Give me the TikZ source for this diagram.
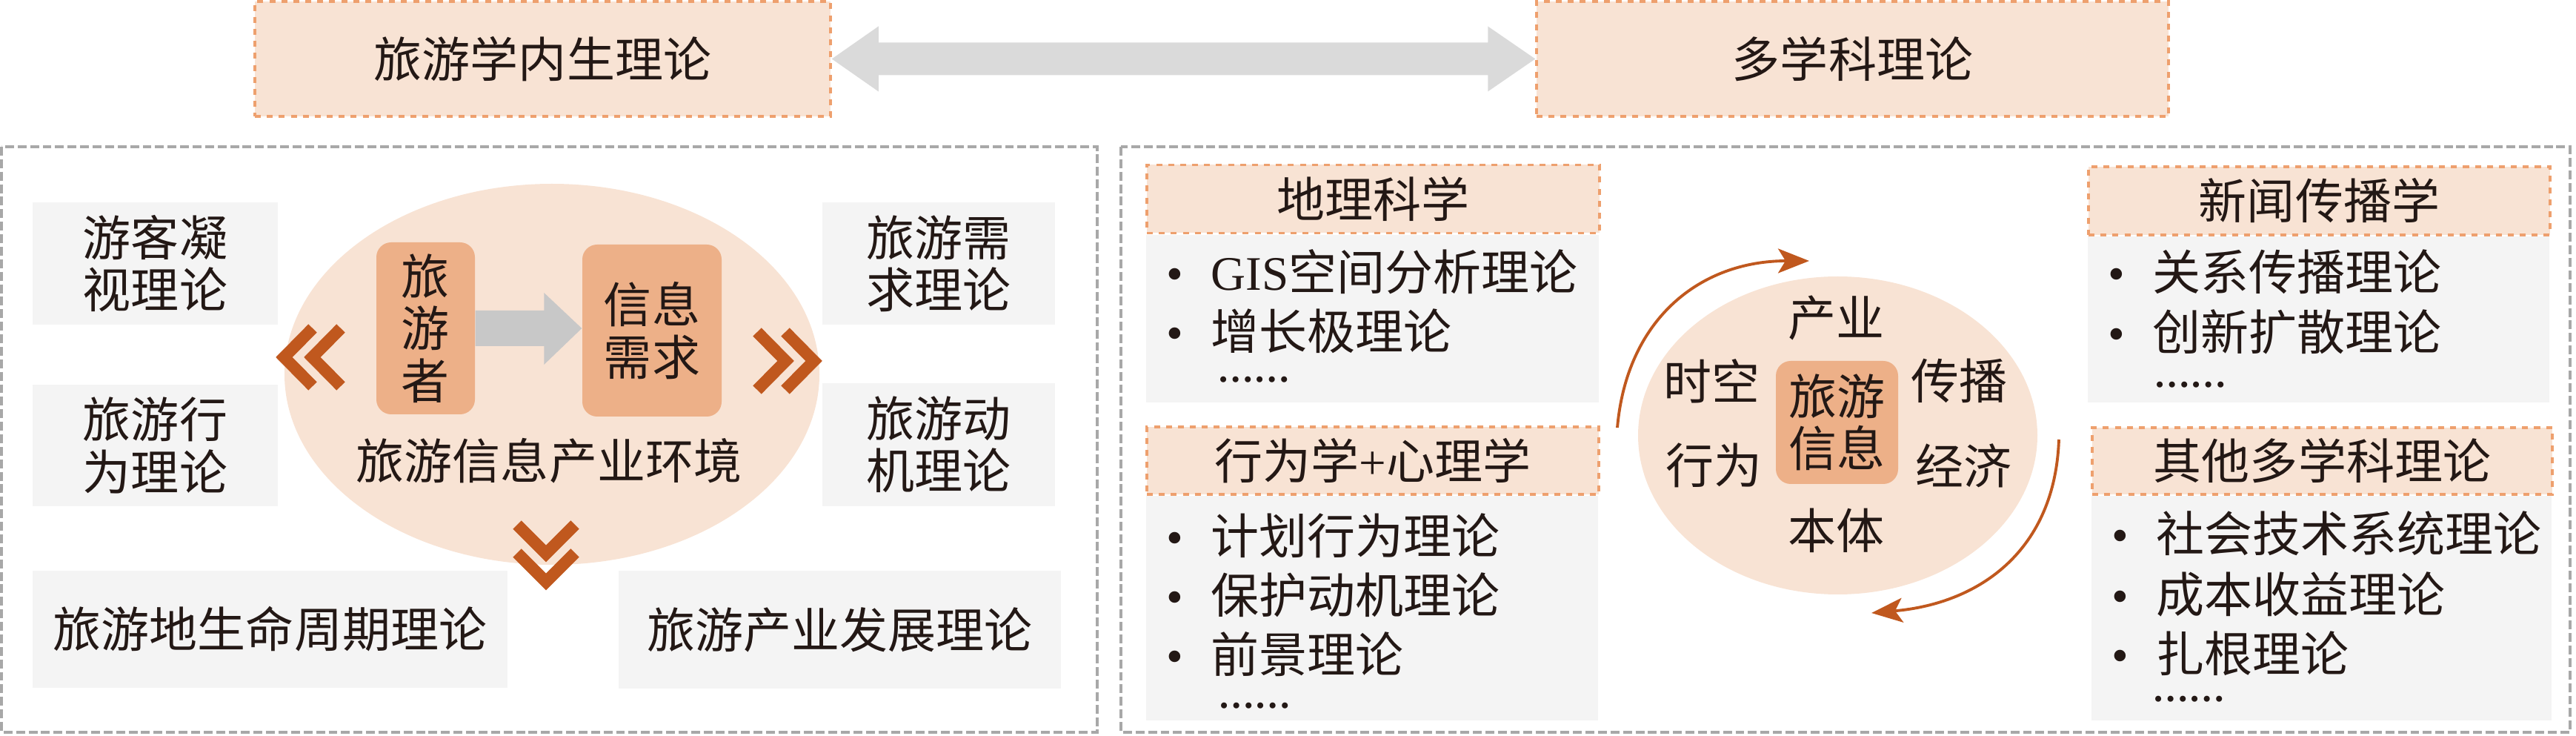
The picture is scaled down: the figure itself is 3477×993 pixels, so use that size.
\documentclass[tikz,border=0pt]{standalone}
\usepackage{fontspec}
\setmainfont{Liberation Serif}
\newfontfamily\cjk{Noto Sans CJK SC}
\usetikzlibrary{arrows.meta,shapes.geometric,calc}

\definecolor{lorange}{RGB}{248,227,212}
\definecolor{borange}{RGB}{238,160,110}
\definecolor{dorange}{RGB}{237,176,136}
\definecolor{rust}{RGB}{192,88,30}
\definecolor{lgray}{RGB}{244,244,244}
\definecolor{pgray}{RGB}{168,168,168}
\definecolor{agray}{RGB}{218,218,218}
\definecolor{bgray}{RGB}{200,200,200}
\definecolor{ink}{RGB}{35,24,21}

\newcommand{\itm}{{\rmfamily\textbullet}\hspace{3.7mm}}

\begin{document}
\begin{tikzpicture}[x=0.1mm,y=-0.1mm]
\tikzstyle{every node} = [font=\cjk\fontsize{18.5pt}{20pt}\selectfont, text=ink, inner sep=0pt]
\tikzstyle{topbox} = [rectangle, draw=borange, fill=lorange, line width=1pt,
dash pattern=on 2.3pt off 2.3pt, minimum height=15.5mm]
\tikzstyle{theory} = [rectangle, fill=lgray, align=center]
\tikzstyle{header} = [rectangle, draw=borange, fill=lorange, line width=1pt,
dash pattern=on 2.3pt off 2.3pt]
\tikzstyle{listbody} = [rectangle, fill=lgray, anchor=north west]
\tikzstyle{listitem} = [anchor=west]
\tikzstyle{dots} = [anchor=west, font=\rmfamily\bfseries\fontsize{14pt}{14pt}\selectfont]
\tikzstyle{corebox} = [rectangle, rounded corners=2mm, fill=dorange, align=center]
\tikzstyle{chev} = [draw=rust, line width=1.6mm, line join=miter]
\tikzstyle{turn} = [draw=rust, line width=1.1pt, -{Stealth[length=4.2mm,width=3.3mm,inset=1mm]}]
\tikzstyle{panel} = [draw=pgray, line width=1.1pt, dash pattern=on 3.4pt off 1.4pt]
\useasboundingbox (0,0) rectangle (3477,993);

% top row
\node [topbox, minimum width=77.7mm] (endo) at (732.5,79.5) {旅游学内生理论};
\node [topbox, minimum width=85.3mm] (multi) at (2500.5,79.5) {多学科理论};
\fill [agray] (endo.east) -- ++(63,-44) -- ++(0,22) -- ($(multi.west)+(-64,-22)$)
  -- ++(0,-22) -- (multi.west) -- ++(-64,44) -- ++(0,-22)
  -- ($(endo.east)+(63,22)$) -- ++(0,22) -- cycle;

% panels
\draw [panel] (2,198) rectangle (1481,988);
\draw [panel] (1513,198) rectangle (3469,988);

% left panel
\node [ellipse, fill=lorange, minimum width=72.2mm, minimum height=51.4mm] (env) at (745,505) {};
\node (envlabel) at (741,622) {旅游信息产业环境};
\node [theory, minimum width=33.1mm, minimum height=16.5mm] (gaze) at (209.5,355.5) {游客凝\\视理论};
\node [theory, minimum width=31.4mm, minimum height=16.5mm] (demand) at (1267,355.5) {旅游需\\求理论};
\node [theory, minimum width=33.1mm, minimum height=16.4mm] (behav) at (209.5,601) {旅游行\\为理论};
\node [theory, minimum width=31.4mm, minimum height=16.6mm] (motive) at (1267,600) {旅游动\\机理论};
\node [theory, minimum width=64.1mm, minimum height=15.8mm] (lifecycle) at (364.5,849) {旅游地生命周期理论};
\node [theory, minimum width=59.7mm, minimum height=15.9mm] (industry) at (1133.5,849.5) {旅游产业发展理论};
\node [corebox, minimum width=13.3mm, minimum height=23.2mm] (tourist) at (574.5,443) {旅\\游\\者};
\node [corebox, minimum width=18.8mm, minimum height=23.2mm] (need) at (880,446) {信息\\需求};
\fill [bgray] ($(tourist.east)+(0,-24)$) -- ($(need.west)+(-51,-27)$) -- ++(0,-24)
  -- ($(need.west)+(0,-3)$) -- ++(-51,49) -- ++(0,-25) -- ($(tourist.east)+(0,24)$) -- cycle;
\draw [chev] (422,443) -- (383.5,482) -- (422,521);
\draw [chev] (460,443) -- (421.5,482) -- (460,521);
\draw [chev] (1060,448) -- (1098.5,487) -- (1060,526);
\draw [chev] (1022,448) -- (1060.5,487) -- (1022,526);
\draw [chev] (698,708) -- (737,747) -- (776,708);
\draw [chev] (698,746) -- (737,785) -- (776,746);

% right panel, left column
\node [header, minimum width=61.1mm, minimum height=9.2mm] (geo) at (1853.5,268.5) {地理科学};
\node [listbody, minimum width=61.1mm, minimum height=22.6mm] (geobody) at (geo.south west) {};
\node [listitem] (gis) at (1574,367) {\itm{\rmfamily GIS}空间分析理论};
\node [listitem] (pole) at (1574,447) {\itm 增长极理论};
\node [dots] (geodots) at (1643,512) {……};
\node [header, minimum width=61.0mm, minimum height=9.1mm] (psy) at (1853,621.5) {行为学{\rmfamily +}心理学};
\node [listbody, minimum width=61.0mm, minimum height=30.3mm] (psybody) at (psy.south west) {};
\node [listitem] (tpb) at (1574,723) {\itm 计划行为理论};
\node [listitem] (pmt) at (1574,803) {\itm 保护动机理论};
\node [listitem] (prospect) at (1574,883) {\itm 前景理论};
\node [dots] (psydots) at (1644,952) {……};

% right panel, right column
\node [header, minimum width=62.3mm, minimum height=9.2mm] (news) at (3130.5,271) {新闻传播学};
\node [listbody, minimum width=62.3mm, minimum height=22.4mm] (newsbody) at (news.south west) {};
\node [listitem] (relcomm) at (2845,367) {\itm 关系传播理论};
\node [listitem] (diffusion) at (2845,448) {\itm 创新扩散理论};
\node [dots] (newsdots) at (2907,519) {……};
\node [header, minimum width=62.1mm, minimum height=9.0mm] (other) at (3134.5,622) {其他多学科理论};
\node [listbody, minimum width=62.1mm, minimum height=30.3mm] (otherbody) at (other.south west) {};
\node [listitem] (sts) at (2850,720) {\itm 社会技术系统理论};
\node [listitem] (cost) at (2850,802) {\itm 成本收益理论};
\node [listitem] (grounded) at (2850,882) {\itm 扎根理论};
\node [dots] (otherdots) at (2905,943) {……};

% centre circle
\node [ellipse, fill=lorange, minimum width=53.9mm, minimum height=42.9mm] (onto) at (2480.5,587.5) {};
\node [corebox, minimum width=16.5mm, minimum height=16.6mm] (info) at (2479.5,570) {旅游\\信息};
\node (ind) at (2478,429) {产业};
\node (spacetime) at (2310,514) {时空};
\node (comm) at (2644,514) {传播};
\node (act) at (2313,628) {行为};
\node (econ) at (2650,628) {经济};
\node (ontology) at (2478,716) {本体};
\coordinate (upstart) at (2183,577);
\coordinate (upend) at (2442,352);
\coordinate (downstart) at (2779,593);
\coordinate (downend) at (2526,827);
\draw [turn] (upstart) to [out=85, in=180, looseness=1.1] (upend);
\draw [turn] (downstart) to [out=-92, in=5, looseness=1.1] (downend);
\end{tikzpicture}
\end{document}
